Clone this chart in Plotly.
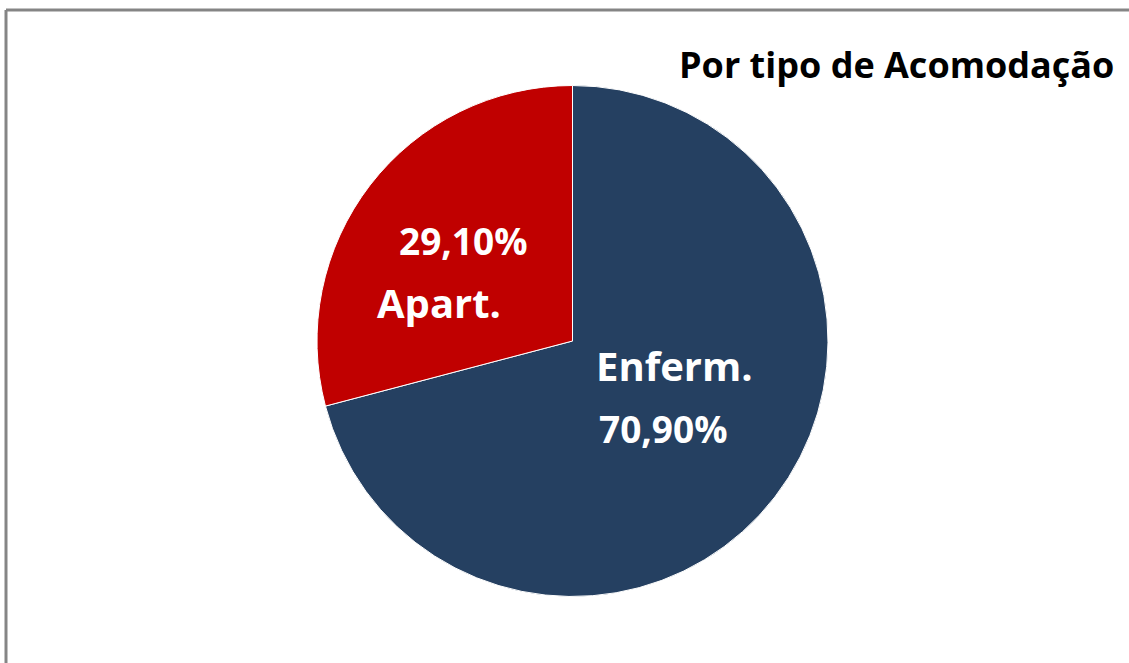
import plotly.graph_objects as go

W, H = 1129, 663

labels = ["Enferm.", "Apart."]
values = [70.90, 29.10]
colors = ["#254061", "#C00000"]
title_text = "Por tipo de Acomodação"

def fmt(v):
    return f"{v:.2f}".replace(".", ",") + "%"

cx, cy, r = 572.5, 341, 255.5

fig = go.Figure(go.Pie(
    labels=labels,
    values=values,
    sort=False,
    direction="clockwise",
    rotation=0,
    marker=dict(colors=colors, line=dict(color="white", width=1)),
    textinfo="none",
    hoverinfo="label+percent",
    showlegend=False,
    domain=dict(x=[(cx - r) / W, (cx + r) / W], y=[1 - (cy + r) / H, 1 - (cy - r) / H]),
))

def px(x, y):
    return x / W, 1 - y / H

font_label = dict(family="Open Sans", size=40, color="white")
font_pct = dict(family="Open Sans", size=37, color="white")

# Label text positions (pixels): (name line, percent line)
pos = {
    "Enferm.": ((674, 365), (663, 428)),
    "Apart.": ((439, 303), (463, 240)),
}
annotations = []
for lab, val in zip(labels, values):
    (lx, ly), (pxx, pyy) = pos[lab]
    x, y = px(lx, ly)
    annotations.append(dict(x=x, y=y, xref="paper", yref="paper", text=f"<b>{lab}</b>",
                            showarrow=False, xanchor="center", yanchor="middle", font=font_label))
    x, y = px(pxx, pyy)
    annotations.append(dict(x=x, y=y, xref="paper", yref="paper", text=f"<b>{fmt(val)}</b>",
                            showarrow=False, xanchor="center", yanchor="middle", font=font_pct))

tx, ty = px(1116, 65)
annotations.append(dict(x=tx, y=ty, xref="paper", yref="paper", text=f"<b>{title_text}</b>",
                        showarrow=False, xanchor="right", yanchor="middle",
                        font=dict(family="Open Sans", size=36, color="black")))

x0, y0 = px(6, 10)
shapes = [
    dict(type="line", xref="paper", yref="paper", x0=x0, y0=0, x1=x0, y1=y0,
         line=dict(color="#858585", width=3)),
    dict(type="line", xref="paper", yref="paper", x0=x0, y0=y0, x1=1, y1=y0,
         line=dict(color="#858585", width=3)),
]

fig.update_layout(
    width=W, height=H,
    margin=dict(l=0, r=0, t=0, b=0),
    paper_bgcolor="white",
    plot_bgcolor="white",
    annotations=annotations,
    shapes=shapes,
)

fig.write_html("out.html",
               config={"displayModeBar": False},
               post_script="document.body.style.margin='0';document.body.style.overflow='hidden';")
